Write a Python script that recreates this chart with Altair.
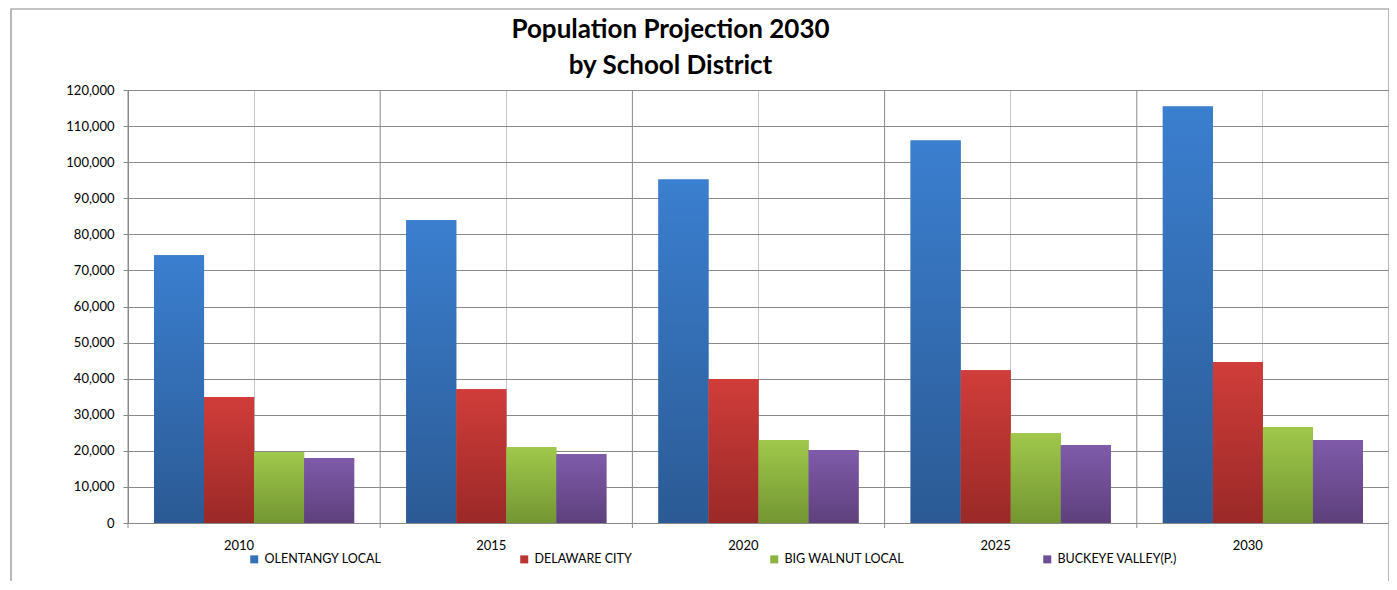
import altair as alt
import pandas as pd

years = ["2010", "2015", "2020", "2025", "2030"]
districts = ["OLENTANGY LOCAL", "DELAWARE CITY", "BIG WALNUT LOCAL", "BUCKEYE VALLEY(P.)"]
olentangy = [74200, 83900, 95200, 106000, 115400]
delaware = [34900, 37100, 39900, 42300, 44600]
big_walnut = [19650, 21000, 23000, 24900, 26600]
buckeye = [18000, 19100, 20200, 21600, 23000]
y_ticks = list(range(0, 120001, 10000))

series = [olentangy, delaware, big_walnut, buckeye]
rows = []
for d, vals in zip(districts, series):
    for yr, v in zip(years, vals):
        rows.append({"year": yr, "district": d, "value": v})
df = pd.DataFrame(rows)

solid = ["#3470B8", "#B83532", "#8AB33F", "#6F5096"]
grad_top = ["#3B7FD0", "#D03D3A", "#A0C84B", "#7F5BAA"]
grad_bot = ["#2B5A94", "#9A2927", "#739632", "#5E407C"]

W, H = 1261, 433
FONT = "Lato"
DARK = "#8a8a8a"

x_scale = alt.Scale(domain=years, paddingInner=0, paddingOuter=0)
x_enc = alt.X(
    "year:N",
    sort=years,
    scale=x_scale,
    axis=alt.Axis(
        title=None, grid=True, gridColor="#c6c6c6", gridWidth=1, ticks=False,
        domainColor=DARK, labelAngle=0, labelFontSize=13, labelFont=FONT,
        labelColor="#000000", labelPadding=22,
    ),
)
xoff_enc = alt.XOffset(
    "district:N", sort=districts,
    scale=alt.Scale(domain=districts, paddingInner=0, paddingOuter=0.52),
)
y_enc = alt.Y(
    "value:Q",
    scale=alt.Scale(domain=[0, 120000], nice=False),
    axis=alt.Axis(
        title=None, values=y_ticks, format=",d", grid=True, gridColor=DARK,
        gridWidth=1, tickColor=DARK, tickSize=5, domainColor=DARK,
        labelFontSize=13, labelFont=FONT, labelColor="#000000", labelPadding=9,
    ),
)

frame = alt.Chart(pd.DataFrame({"a": [0]})).mark_rect(
    fill="transparent", stroke=DARK, strokeWidth=1.2
).encode(
    x=alt.value(-117), x2=alt.value(W), y=alt.value(-81), y2=alt.value(H + 200)
)

boundary_rules = alt.Chart(pd.DataFrame({"year": years})).mark_rule(
    color=DARK, strokeWidth=1
).encode(
    x=alt.X("year:N", sort=years, scale=x_scale, bandPosition=0),
    y=alt.value(0), y2=alt.value(H + 5),
)

legend_bars = alt.Chart(df).mark_bar().encode(
    x=x_enc, xOffset=xoff_enc, y=y_enc,
    color=alt.Color(
        "district:N", sort=districts,
        scale=alt.Scale(domain=districts, range=solid),
        legend=alt.Legend(
            title=None, orient="none", legendX=120, legendY=463, direction="horizontal",
            columns=4, columnPadding=136, symbolType="square", symbolSize=64,
            symbolStrokeWidth=0, labelFontSize=12.5, labelFont=FONT, labelColor="#000000",
            symbolOffset=0, labelOffset=4, padding=0,
        ),
    ),
)

layers = [frame, boundary_rules, legend_bars]
for d, t, b in zip(districts, grad_top, grad_bot):
    layers.append(
        alt.Chart(df).transform_filter(alt.datum.district == d).mark_bar(
            color=alt.Gradient(
                gradient="linear",
                stops=[alt.GradientStop(color=t, offset=0), alt.GradientStop(color=b, offset=1)],
                x1=0, x2=0, y1=0, y2=1,
            )
        ).encode(x=x_enc, xOffset=xoff_enc, y=y_enc)
    )

chart = alt.layer(*layers).properties(
    width=W, height=H,
    title=alt.TitleParams(
        ["Population Projection 2030", "by School District"],
        font=FONT, fontSize=26, fontWeight="bold", color="#000000",
        anchor="middle", frame="group", dx=-88, dy=71, offset=0, lineHeight=36,
    ),
    autosize=alt.AutoSizeParams(type="none"),
    padding={"left": 120, "top": 82, "right": 0, "bottom": 58},
).configure_view(stroke=None).configure(background="white")

chart.save("out.html", embed_options={"renderer": "svg", "actions": False})
